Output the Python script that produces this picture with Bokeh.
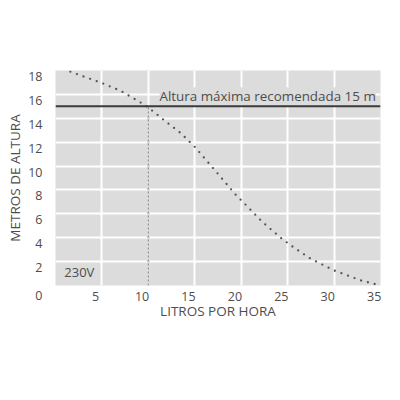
from bokeh.plotting import figure
from bokeh.models import FixedTicker, Span, Label, Range1d, ColumnDataSource, CustomJSTickFormatter
from bokeh.embed import file_html
from bokeh.resources import INLINE

# ---- data ----
x_ticks = [5, 10, 15, 20, 25, 30, 35]
y_ticks = [0, 2, 4, 6, 8, 10, 12, 14, 16, 18]
curve_x = [1.6, 3, 5, 7, 9, 10, 12, 13.5, 15, 16, 17.8, 19.4, 20.2, 22.3, 24.4, 25.7, 27.5, 30, 32.9, 35]
curve_y = [17.9, 17.5, 16.95, 16.3, 15.4, 14.9, 13.65, 12.75, 11.6, 10.7, 9.07, 7.6, 6.98, 5.3, 3.9, 3.16, 2.23, 1.26, 0.42, 0.0]
max_height = 15
crossing_x = 10
note_text = "Altura máxima recomendada 15 m"
voltage_text = "230V"
x_title = "LITROS POR HORA"
y_title = "METROS DE ALTURA"

FONT = "Open Sans"
TXT = "#4d4d4d"
BG = "#dcdcdc"
# tick labels in the original sit slightly left of / below their gridlines
X_NUDGE = 0.68
Y_NUDGE = 0.5

p = figure(width=390, height=340, x_range=Range1d(0, 35), y_range=Range1d(0, 18),
           output_backend="svg", toolbar_location=None,
           min_border_left=55, min_border_right=10, min_border_top=70, min_border_bottom=55)
p.background_fill_color = BG
p.border_fill_color = "white"
p.outline_line_color = None

for ax in (p.xaxis, p.yaxis):
    ax.axis_line_color = None
    ax.major_tick_line_color = None
    ax.minor_tick_line_color = None
    ax.major_label_text_font = FONT
    ax.major_label_text_font_size = "12.5px"
    ax.major_label_text_color = TXT
    ax.axis_label_text_font = FONT
    ax.axis_label_text_font_size = "13.5px"
    ax.axis_label_text_color = TXT
    ax.axis_label_text_font_style = "normal"

p.xaxis.ticker = FixedTicker(ticks=[t - X_NUDGE for t in x_ticks])
p.xaxis.formatter = CustomJSTickFormatter(code=f"return String(Math.round(tick + {X_NUDGE}));")
# the lowest label cannot go below the range, so it is pushed down with an empty first line
p.yaxis.ticker = FixedTicker(ticks=[t - Y_NUDGE if t > y_ticks[0] else t for t in y_ticks])
p.yaxis.formatter = CustomJSTickFormatter(
    code=f"const v = Math.ceil(tick); return v == {y_ticks[0]} ? '\\n' + String(v) : String(v);")

p.xaxis.axis_label = x_title
p.yaxis.axis_label = y_title
p.xaxis.major_label_standoff = 0
p.yaxis.major_label_standoff = 7
p.xaxis.axis_label_standoff = -2
p.yaxis.axis_label_standoff = 1

p.xgrid.ticker = FixedTicker(ticks=x_ticks)
p.ygrid.ticker = FixedTicker(ticks=y_ticks)
for g in (p.xgrid, p.ygrid):
    g.grid_line_color = "white"
    g.grid_line_width = 2

# mask gridline below the limit line, then dashed guide
p.segment(x0=[crossing_x], y0=[0], x1=[crossing_x], y1=[max_height], line_color=BG, line_width=3)
p.segment(x0=[crossing_x], y0=[0], x1=[crossing_x], y1=[max_height], line_color="#8a8a8a",
          line_width=1, line_dash="2 2")

src = ColumnDataSource(data=dict(x=curve_x, y=curve_y))
p.line("x", "y", source=src, line_color="#555555", line_width=2.3, line_dash="0 7", line_cap="round")

# note first (its box hides the gridlines), then the limit line on top
p.add_layout(Label(x=11.2, y=15.85, text=note_text, text_font=FONT, text_font_size="13.4px",
                   text_color=TXT, text_baseline="alphabetic", background_fill_color=BG))
p.add_layout(Span(location=max_height, dimension="width", line_color="#3a3a3a", line_width=2))
p.add_layout(Label(x=0.95, y=1.1, text=voltage_text, text_font=FONT, text_font_size="13px",
                   text_color=TXT, text_baseline="middle"))

open("out.html", "w").write(file_html(p, INLINE))
